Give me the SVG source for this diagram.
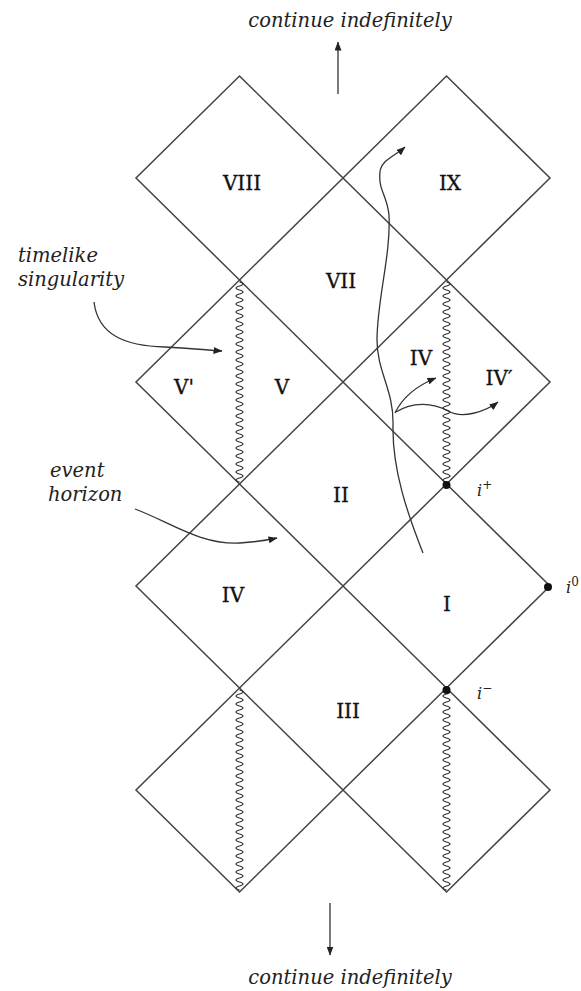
<svg xmlns="http://www.w3.org/2000/svg" xmlns:xlink="http://www.w3.org/1999/xlink" width="581" height="991" viewBox="0 0 581 991">
  <style>
    .edge { fill: none; stroke: #444; stroke-width: 1.5; stroke-linejoin: miter; }
    .sing { fill: none; stroke: #333; stroke-width: 1.2; }
    .conn { fill: none; stroke: #333; stroke-width: 1.3; }
    .num { font-family: "DejaVu Serif", "Liberation Serif", serif; font-size: 20px; fill: #111; text-anchor: middle; stroke: #111; stroke-width: 0.3; }
    .note { font-family: "DejaVu Serif", "Liberation Serif", serif; font-style: italic; font-size: 19.5px; fill: #222; }
    .pt { font-family: "DejaVu Serif", "Liberation Serif", serif; font-style: italic; font-size: 16px; fill: #222; }
    .sup { font-size: 12px; font-style: normal; }
  </style>
  <defs>
    <marker id="ah" viewBox="0 0 9 7" refX="8.5" refY="3.5" markerWidth="9" markerHeight="7" markerUnits="userSpaceOnUse" orient="auto">
      <path d="M0,0 L9,3.5 L0,7 z" fill="#222"/>
    </marker>
    <!-- wavy singularity, 200 px long, drawn downward from the origin -->
    <path id="wig" d="M0,0 q7,2 0,4 t0,4 t0,4 t0,4 t0,4 t0,4 t0,4 t0,4 t0,4 t0,4 t0,4 t0,4 t0,4 t0,4 t0,4 t0,4 t0,4 t0,4 t0,4 t0,4 t0,4 t0,4 t0,4 t0,4 t0,4 t0,4 t0,4 t0,4 t0,4 t0,4 t0,4 t0,4 t0,4 t0,4 t0,4 t0,4 t0,4 t0,4 t0,4 t0,4 t0,4 t0,4 t0,4 t0,4 t0,4 t0,4 t0,4 t0,4 t0,4 t0,4"/>
  </defs>
  <rect width="581" height="991" fill="#fff"/>

  <!-- row 1 -->
  <g id="region-VIII">
    <polygon class="edge" points="239.5,76 343,178 239.5,280 136,178"/>
    <text class="num" x="242" y="190">VIII</text>
  </g>
  <g id="region-IX">
    <polygon class="edge" points="446.5,76 550,178 446.5,280 343,178"/>
    <text class="num" x="450" y="190">IX</text>
  </g>
  <g id="region-VII">
    <text class="num" x="341" y="288">VII</text>
  </g>

  <!-- row 2 -->
  <g id="region-V">
    <polygon class="edge" points="239.5,280 343,382 239.5,484 136,382"/>
    <use class="sing" xlink:href="#wig" x="239.5" y="282"/>
    <text class="num" x="184" y="394">V'</text>
    <text class="num" x="282" y="394">V</text>
  </g>
  <g id="region-IV-upper">
    <polygon class="edge" points="446.5,280 550,382 446.5,484 343,382"/>
    <use class="sing" xlink:href="#wig" x="446.5" y="282"/>
    <text class="num" x="421" y="365">IV</text>
    <text class="num" x="499" y="385">IV′</text>
  </g>
  <g id="region-II">
    <text class="num" x="341" y="502">II</text>
  </g>

  <!-- row 3 -->
  <g id="region-IV">
    <polygon class="edge" points="239.5,484 343,586 239.5,688 136,586"/>
    <text class="num" x="233" y="602">IV</text>
  </g>
  <g id="region-I">
    <polygon class="edge" points="446.5,484 550,586 446.5,688 343,586"/>
    <text class="num" x="447" y="611">I</text>
  </g>
  <g id="region-III">
    <text class="num" x="348" y="718">III</text>
  </g>

  <!-- row 4 -->
  <g id="region-bottom-left">
    <polygon class="edge" points="239.5,688 343,790 239.5,892 136,790"/>
    <use class="sing" xlink:href="#wig" x="239.5" y="690"/>
  </g>
  <g id="region-bottom-right">
    <polygon class="edge" points="446.5,688 550,790 446.5,892 343,790"/>
    <use class="sing" xlink:href="#wig" x="446.5" y="690"/>
  </g>

  <!-- infinity points -->
  <g id="i-plus">
    <circle cx="446.5" cy="485" r="4" fill="#111"/>
    <text class="pt" x="477" y="496">i<tspan class="sup" dy="-7">+</tspan></text>
  </g>
  <g id="i-zero">
    <circle cx="548" cy="587" r="4" fill="#111"/>
    <text class="pt" x="566" y="593">i<tspan class="sup" dy="-7">0</tspan></text>
  </g>
  <g id="i-minus">
    <circle cx="446.5" cy="690" r="4" fill="#111"/>
    <text class="pt" x="477" y="699">i<tspan class="sup" dy="-7">−</tspan></text>
  </g>

  <!-- annotations -->
  <g id="note-top">
    <text class="note" x="350" y="27" text-anchor="middle">continue indefinitely</text>
  </g>
  <g id="note-bottom">
    <text class="note" x="350" y="984" text-anchor="middle">continue indefinitely</text>
  </g>
  <g id="note-singularity">
    <text class="note" x="18" y="262">timelike</text>
    <text class="note" x="18" y="286">singularity</text>
  </g>
  <g id="note-horizon">
    <text class="note" x="50" y="477">event</text>
    <text class="note" x="48" y="501">horizon</text>
  </g>

  <!-- connectors: pointers, worldlines and continuation arrows -->
  <g id="connectors">
    <path class="conn" marker-end="url(#ah)" d="M338,94 L338,42"/>
    <path class="conn" marker-end="url(#ah)" d="M330,903 L330,955"/>
    <path class="conn" marker-end="url(#ah)" d="M94,302 C98,335 125,346 165,347 C190,348 205,350 222,351"/>
    <path class="conn" marker-end="url(#ah)" d="M135,509 C170,522 200,545 240,543 C255,542 268,540 277,538"/>
    <path class="conn" marker-end="url(#ah)" d="M423,553 C408,515 392,470 393,425 C394,390 377,372 377,340 C377,300 391,255 389,215 C387,195 378,190 380,172 C381,160 395,156 405,147"/>
    <path class="conn" marker-end="url(#ah)" d="M395,413 Q406,390 436,378"/>
    <path class="conn" marker-end="url(#ah)" d="M396,412 C412,402 432,402 448,411 C462,419 485,412 498,402"/>
  </g>
</svg>
